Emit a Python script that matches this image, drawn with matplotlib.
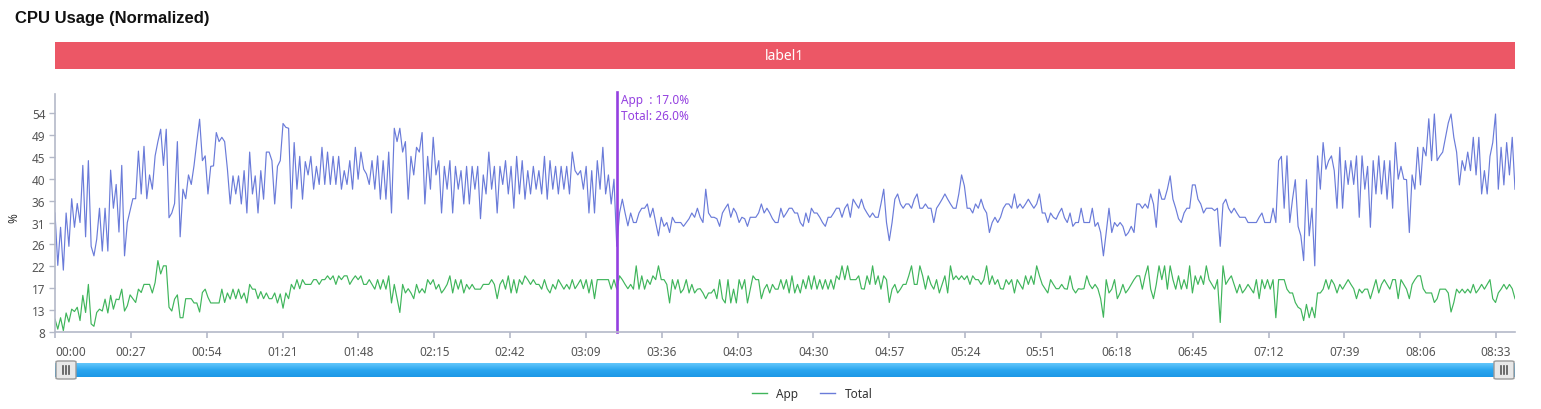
import numpy as np
import matplotlib
matplotlib.use("Agg")
import matplotlib.pyplot as plt
from matplotlib.patches import Rectangle, FancyBboxPatch
from matplotlib.lines import Line2D
from matplotlib.colors import LinearSegmentedColormap

plt.rcParams['font.family'] = ['Noto Sans', 'DejaVu Sans']

TITLE = "CPU Usage (Normalized)"
BAND_LABEL = "label1"
SERIES_NAMES = ["App", "Total"]
Y_LABEL = "%"
SAMPLE_MIN = 0.99  # minutes per sample

total = [
    33,22,30,21,33,26,36,30,35,31, 43,28,44,26,24,27.5,34,25,34,25, 42,34,39,29,43,24,31,33.5,36,36,
    46,37,47,36,41,38,45,48,50.6,43, 50.6,32,33,35,48,28,38,36,41,39, 43,48,52.7,
    44,45,37,42.8,42.9,49.9,48,48.9,48,42.2, 34.9,40.8,37,40.8,34.9,41.9,33,45.8,37,40.8,
    33,41.9,35.9,45.8,45.8,44,34.9,42.8,44,51.8, 51,50.8,34,47.8,38,44.9,35.9,43.8,41,44.9,
    38,42.8,39,46.8,39,45.8,39,44.9,39,44.9, 38,41.9,
    39,44,38,46.8,40.1,45.8,42.2,41.2,39,44, 38,45,35.9,44,35.9,45.8,33,50.8,48,50.8,
    45.8,48,35.9,44.9,41,46.8,45.8,49.9,34.9,44.9, 38,48.9,41,44,33,42.8,38,44,33,42.8,
    38,41.9,34.9,42.8,34.9,42.8,38,42.8,31.8,41, 37,
    45.8,38,42.8,33,42.8,39,44,37,42.8,34, 44.9,37,44,35.9,41.9,37,42.8,38,41.9,37,
    44.9,35.9,44,38,42.8,37,42.8,38,42.8,37, 45.8,41.9,41,41.9,38,42.8,33,41.9,33,44,
    38,46.8,37,41,34.9,40.1,26,33,35.9,33, 30.3,33,
    31,31,33,34,34,34.9,32.1,34,31,28.2, 32.1,30.2,31,28.9,32.1,31,31,31,30.2,31,
    31.8,33,32.1,34,32.1,31,38,33,32.1,32.1, 31.8,30.2,33,34,34.9,32.1,34,33,31,32.1,
    31.8,30.2,32.1,32.1,32.1,33,34.9,33,34,33, 31.8,31,
    31,34,32.1,33,34,34,33,33,31,30.2, 33,31,34,33,33,32.1,31,30.2,32.1,32.1,
    33,34,34,32.1,34,34.9,32.1,35.9,34.9,34, 35.9,34,33,32.1,33,32.1,32.1,34.9,38,31,
    27.2,31,35.9,37,34.9,34,34.9,34.9,34,35.9, 37,34,
    34,34.9,34,34,31,34,34.9,35.9,37,35.9, 34.9,34,34,37,41,38.7,34,34,33,34.9,
    34,35.9,34,33,28.9,31,32.1,31,32.1,34, 34.9,34.9,34,37,34,34.9,34,34.9,35.9,34.9,
    34,34.9,37,33,33,31,33,32.1,31.7,33, 34,32,
    31,33,30.2,31,31,34,31,31,31,34, 30.2,31,28.9,24,28.9,34,28.9,31,30.2,31,
    30.2,28.2,28.9,30.2,28.9,34.9,34.9,34,34.9,34, 37,34.9,30,38,35.9,35.9,38,40.8,35.9,34,
    31.8,31,33,34,34,38.9,38.9,35.9,34.9,33, 34,34,
    34,33.5,34,26,34.9,35.9,34,33,34,33, 32.1,32.1,32.1,31,31,31,31,32.1,33,31,
    31,31,34,31,44,44.9,34,45,31,35.9, 40,30.2,28.2,23,40,28.2,34,21.9,45,38,
    47.8,42.2,44,45,41.9,34,46.8,34,44,39, 44,39,
    45,32.1,45,38,42.8,30,44,37,45,37, 44,35.9,44,34,47.8,40.1,42.8,40.1,40,28.9,
    41,38,46.8,38.9,46.8,45,52.8,44,53.8,44, 45,45.8,48.9,51.9,53.8,48.9,45.8,38.9,44,41.9,
    45.8,41.9,48.9,41,48.9,37,41.9,37,44.9,47.8, 53.8,38,46.8,38.9,47.8,41,48.9,38,
]

app = [
    10.7,8.6,11,8.3,12,10.1,12.8,12.3,13.2,10.4, 15.7,12.1,18,9.7,9.2,12.1,12.8,12.4,14.9,12,
    15.7,12.8,14.9,14.8,17,12.4,13.5,15.8,15,14.2, 17,16.3,18,18,18,16.2,18.4,23,20.2,21.9,
    21.9,13.2,12.4,14.9,15.8,11,11,15,15,15, 14.1,14.1,12.2,
    16.3,17,15.3,14.1,14.1,14.1,14.1,17,14.2,16.2, 14.9,17,15,17,15,16.2,14.1,18,17,17,
    15,16.5,15,16.2,15,15,16.2,14.1,16,13, 16.2,15,18,17,19,17.1,19,18,18,18,
    19,19,18,19,19,19.8,19,19.8,18,19.8, 19,19.8,
    19.8,18,19,19.8,19,19.8,18,18,19,18, 17,19,17,19,17,19.8,14.1,18,15,12.1,
    18,16.2,17.1,16.2,15,18,16.2,17.1,16.2,19, 18,19,17,18,16.2,17,18,19.8,16.2,19,
    17,19,16.2,18,17,18,17,17,17,18, 18,
    18,19,18,15,18,19,17,19.8,16.2,19, 16.2,19,18,19.8,19,18,19,18,18,17,
    19,17.1,16.2,18,17,19,18,17,18,17, 19,17.1,18,19,17.1,19,16.2,19,15,19,
    19,19,19,19,17,19,17,19.8,19,18, 17.1,18,
    17,21.9,17,19.8,17,19,18,19.8,19,21.9, 19,19,18,14.1,19,17,19,16.2,17,19,
    16.2,18,16.2,17,17.1,16.2,15,16.2,16.2,17, 15,19,15,14.1,19,14.1,17,14.1,19,17,
    19,14.1,17,19.8,19,19,15,17,18,16.2, 18,17,
    17,19,17,19,16.2,19.8,16.2,18,16.2,19, 17.1,19.8,17,19.8,17,19,17,19,17,19,
    17,19.8,19,21.9,19,21.9,19,19,19,19.8, 17.1,17,19.8,18,21.9,18,19.8,17,19.8,19,
    14.2,17,18,16.2,17,18,18,19.8,21.9,18, 18,21.9,
    19.8,17,19.8,18,17,19,16.2,18,19.8,16.2, 21.9,19,19.8,19,19.8,19,19.8,18,19.8,19,
    19,18,19,21.9,18,19.8,18,19,17.1,17, 19,18,19,16.2,19,18,17,19.8,18,19.8,
    18,21.9,19.8,18,17.1,16.2,19,18,17.1,17.1, 18,17.1,
    17,19.8,17.1,16.2,17.1,17,17.1,19.8,18,17.1, 18,17.1,15,11.1,19,16.2,17,19,15,16.2,
    18,16.2,17,18,19,19.8,19.8,17,19.8,21.9, 17,15,18,21.9,19,21.9,17,21.9,19,17,
    19.8,17,19,17.1,21.9,16.2,19.8,18,19.8,18, 21.9,19,
    18,17,19,10,21.9,18,19,19.8,18,16.2, 18,16.2,17,18,17.1,16.2,19,15,19,17.1,
    19,17,19,11,19,19,19,17,16.2,16.2, 14.2,13.2,12.8,10.4,13.8,11,13.2,11,16.2,16.2,
    17,19,17,19,18,16.2,18,17,18,19, 18,17.1,
    15,17,16.2,17,17,15,17,19,16.2,18, 19,18,17,19,19,15,19,18,17,15,
    18,19,19.8,19.8,17.1,16.2,16.2,16.2,14.2,15, 17,17,17,16.2,12.2,14.2,17,16.2,17,16.2,
    17,16.2,18,16.2,17,18,17,18,19,15, 14.2,16.2,17,18,17,18,17.1,15,
]

x_tick_minutes = [0, 27, 54, 81, 108, 135, 162, 189, 216, 243, 270, 297, 324, 351,
                  378, 405, 432, 459, 486, 513]
x_tick_labels = ["00:00", "00:27", "00:54", "01:21", "01:48", "02:15", "02:42", "03:09",
                 "03:36", "04:03", "04:30", "04:57", "05:24", "05:51", "06:18", "06:45",
                 "07:12", "07:39", "08:06", "08:33"]
y_tick_values = [8, 12.6, 17.2, 21.8, 26.4, 31, 35.6, 40.2, 44.8, 49.4, 54]
y_tick_labels = ["8", "13", "17", "22", "26", "31", "36", "40", "45", "49", "54"]
y_range = (8, 58)
cursor_index = 202

assert len(app) == len(total)
n = len(total)
minutes = np.arange(n) * SAMPLE_MIN

C_TOTAL = "#6a7bd9"
C_APP = "#3fb55b"
C_CURSOR = "#9440e0"
C_AXIS = "#b4b9c8"
C_TEXT = "#555555"

W, H = 1541, 410
fig = plt.figure(figsize=(W / 100, H / 100), dpi=100)


def fx(px):
    return px / W


def fy(py):
    return 1 - py / H


# title
fig.text(fx(15), fy(19), TITLE, fontsize=12, fontweight='bold', ha='left', va='center',
         color='#111111', family=['Liberation Sans', 'DejaVu Sans'])

# red band
fig.add_artist(Rectangle((fx(55), fy(70)), 1460 / W, 27 / H, transform=fig.transFigure,
                         facecolor='#ec5766', edgecolor='none'))
fig.text(fx(785), fy(56.5), BAND_LABEL, fontsize=10, color='white', ha='center', va='center')

# main axes
ax = fig.add_axes([fx(55), fy(333), 1460 / W, 238 / H])
ax.plot(minutes, total, color=C_TOTAL, lw=0.85)
ax.plot(minutes, app, color=C_APP, lw=0.85)
ax.set_xlim(minutes[0], minutes[-1])
ax.set_ylim(*y_range)
for s in ['top', 'right']:
    ax.spines[s].set_visible(False)
for s in ['left', 'bottom']:
    ax.spines[s].set_color(C_AXIS)
    ax.spines[s].set_linewidth(1.2)
ax.set_yticks(y_tick_values, y_tick_labels)
ax.set_xticks(x_tick_minutes, x_tick_labels)
ax.tick_params(axis='y', length=4, width=1, color=C_AXIS, labelcolor=C_TEXT, labelsize=8.5, pad=3)
ax.tick_params(axis='x', length=4, width=1.2, color=C_AXIS, labelcolor=C_TEXT, labelsize=8.5, pad=5)
ax.get_xticklabels()[0].set_ha('left')
fig.text(fx(14), fy(218), Y_LABEL, fontsize=8.5, color='#333333', rotation=90,
         ha='center', va='center')

# cursor line + values
cx = minutes[cursor_index]
ax.plot([cx, cx], [y_range[0], y_range[1] + 0.4], color=C_CURSOR, lw=1.9, clip_on=False)
ax.annotate(f"App  : {app[cursor_index]:.1f}%\nTotal: {total[cursor_index]:.1f}%",
            xy=(cx, 1.0), xycoords=('data', 'axes fraction'), xytext=(3, 1),
            textcoords='offset points', ha='left', va='top', fontsize=8.5,
            color=C_CURSOR, linespacing=1.3)

# slider
sax = fig.add_axes([fx(55), fy(378), 1460 / W, 14 / H])
grad = np.linspace(0, 1, 32).reshape(-1, 1)
cmap = LinearSegmentedColormap.from_list('sl', ['#62c6fb', '#2aa6ef', '#1d98e6'])
sax.imshow(grad, aspect='auto', cmap=cmap, extent=(0, 1, 0, 1))
sax.set_xlim(0, 1)
sax.set_ylim(0, 1)
sax.axis('off')
for hx in (56, 1494):
    fig.add_artist(FancyBboxPatch((fx(hx), fy(380)), 20 / W, 18 / H,
                                  boxstyle='round,pad=0,rounding_size=0.002',
                                  transform=fig.transFigure, facecolor='#e8e8e8',
                                  edgecolor='#9a9a9a', linewidth=1))
    for dx in (-3, 0, 3):
        fig.add_artist(Line2D([fx(hx + 10 + dx)] * 2, [fy(375), fy(367)],
                              transform=fig.transFigure, color='#555555', lw=1.2))

# legend
handles = [Line2D([], [], color=C_APP, lw=1), Line2D([], [], color=C_TOTAL, lw=1)]
leg = fig.legend(handles, SERIES_NAMES, loc='center', bbox_to_anchor=(fx(812), fy(395)),
                 ncol=2, frameon=False, fontsize=8.5, handlelength=1.3,
                 handletextpad=0.8, columnspacing=1.8)
for t in leg.get_texts():
    t.set_color('#333333')

fig.savefig("out.png", dpi=100)
